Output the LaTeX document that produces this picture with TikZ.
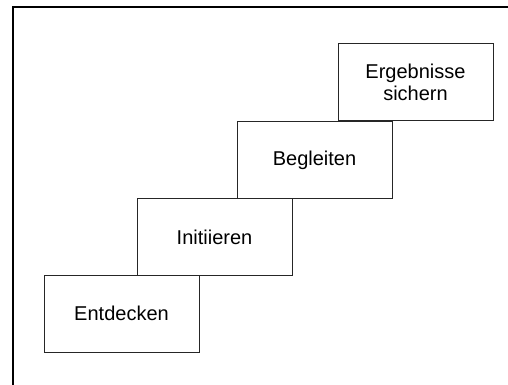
\documentclass[tikz,border=0pt]{standalone}
\usepackage{fontspec}
\setmainfont{Liberation Sans}
\begin{document}
\begin{tikzpicture}[x=1pt,y=-1pt,
  stepbox/.style={draw=black!85,line width=1pt,minimum width=155pt,minimum height=77pt,
    inner sep=0pt,align=center,font=\fontsize{20}{22}\selectfont},
  framel/.style={draw=black,line width=1.4pt}]
\useasboundingbox (0,0) rectangle (508,385);
\coordinate (f1) at (13,385);
\coordinate (f2) at (13,7);
\coordinate (f3) at (508,7);
\draw[framel] (f1) -- (f2) -- (f3);
\node[stepbox] (a) at (121.5,313.5) {Entdecken};
\node[stepbox] (b) at (214.5,237) {Initiieren};
\node[stepbox] (c) at (314.5,160) {Begleiten};
\node[stepbox] (d) at (415.5,82) {Ergebnisse\\sichern};
\end{tikzpicture}
\end{document}
